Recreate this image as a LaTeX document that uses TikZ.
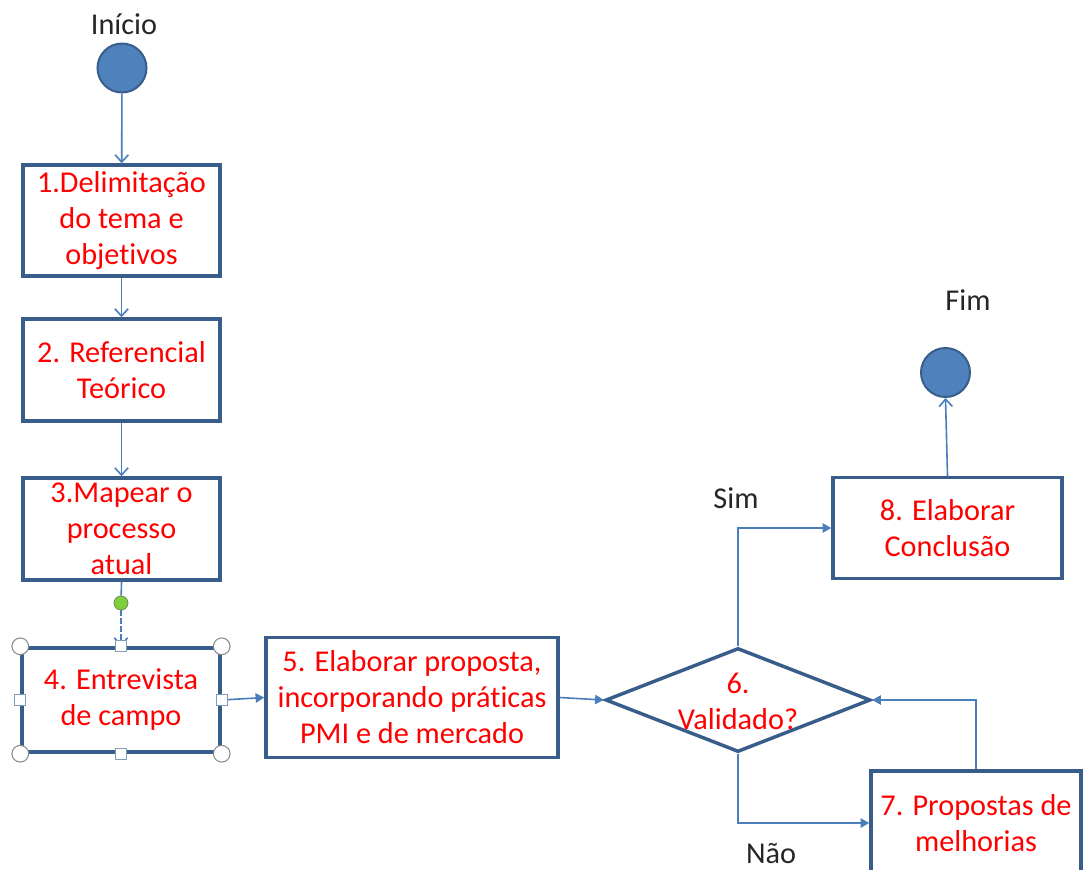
\documentclass[tikz,border=0pt]{standalone}
\usepackage{fontspec}
\setmainfont{Carlito}[Ligatures=NoCommon]
\usetikzlibrary{shapes.geometric,arrows.meta}
\definecolor{boxline}{HTML}{385D8A}
\definecolor{connblue}{HTML}{4A7EBB}
\definecolor{dotfill}{HTML}{4F81BD}
\definecolor{greendot}{HTML}{7FCF3A}
\definecolor{greenedge}{HTML}{6A8F55}
\definecolor{handlegray}{HTML}{8C8C8C}
\definecolor{handleblue}{HTML}{7F9DB9}
\begin{document}
\begin{tikzpicture}[x=0.75pt,y=-0.75pt,
  font=\fontsize{22.7}{27}\selectfont,
  stepbox/.style={rectangle,draw=boxline,line width=2.6pt,fill=white,text=red,align=center,inner sep=0pt},
  decision/.style={diamond,draw=boxline,line width=2.6pt,fill=white,inner sep=0pt},
  terminal/.style={circle,draw=boxline,line width=1.5pt,fill=dotfill,minimum size=36.75pt,inner sep=0pt},
  conn/.style={draw=connblue,line width=1.2pt},
  openarrow/.style={conn,-{Straight Barb[length=5.5pt,width=10pt]}},
  fillarrow/.style={conn,-{Triangle[length=6.5pt,width=7pt]}},
  plain/.style={text=black!85,inner sep=0pt},
  cornerhandle/.style={circle,draw=handlegray,fill=white,line width=0.8pt,minimum size=12.5pt,inner sep=0pt},
  sidehandle/.style={rectangle,draw=handleblue,fill=white,line width=0.8pt,minimum size=8.5pt,inner sep=0pt}]
\useasboundingbox (0,0) rectangle (1084,869);
\clip (0,0) rectangle (1084,869);

% start and end markers
\node[terminal] (ini) at (122,68) {};
\node[plain] (tini) at (124,24) {Início};
\node[terminal] (fim) at (945.5,372.5) {};
\node[plain] (tfim) at (968,300) {Fim};

% process steps
\node[stepbox,minimum width=147.75pt,minimum height=83.25pt] (b1) at (121.5,220.5)
  {1.Delimitação\\do tema e\\objetivos};
\node[stepbox,minimum width=147.75pt,minimum height=76.5pt] (b2) at (121.5,370)
  {2. Referencial\\Teórico};
\node[stepbox,minimum width=147.75pt,minimum height=76.5pt] (b3) at (121.5,529)
  {3.Mapear o\\processo\\atual};
\node[stepbox,minimum width=148.5pt,minimum height=78pt] (b4) at (121,700)
  {4. Entrevista\\de campo};
\node[stepbox,minimum width=219pt,minimum height=90pt] (b5) at (412,697.5)
  {5. Elaborar proposta,\\incorporando práticas\\PMI e de mercado};
\node[decision,minimum width=198.75pt,minimum height=78pt] (d6) at (738,700) {};
\node[text=red,align=center,inner sep=0pt] (t6) at (738,701)
  {\fontsize{22.7}{24}\selectfont 6.\\Validado?};
\node[stepbox,minimum width=171.75pt,minimum height=75.75pt] (b8) at (947.5,528)
  {8. Elaborar\\Conclusão};
\node[stepbox,minimum width=157.5pt,minimum height=78pt] (b7) at (976,823)
  {7. Propostas de\\melhorias};

% branch labels
\node[plain] (lsim) at (736,498) {Sim};
\node[plain] (lnao) at (771,853) {Não};

% connection point below step 3
\node[circle,draw=greenedge,fill=greendot,line width=0.6pt,minimum size=10.5pt,inner sep=0pt] (g) at (121,603) {};

% connectors
\draw[openarrow] (ini) -- (b1);
\draw[openarrow] (b1) -- (b2);
\draw[openarrow] (b2) -- (b3);
\draw[conn] (b3.south) -- (g);
\draw[openarrow,dash pattern=on 4pt off 2pt] (g) -- (b4.north);
\draw[fillarrow] (b4.east) -- (b5.west);
\draw[fillarrow] (b5.east) -- (d6.west);
\draw[fillarrow] (d6.north) |- (b8.west);
\draw[fillarrow] (d6.south) |- (b7.west);
\draw[fillarrow] (b7.north) |- (d6.east);
\draw[openarrow] (b8.north) -- (fim.south);

% selection handles around step 4
\foreach \a/\n in {north west/nw,north east/ne,south west/sw,south east/se}
  \node[cornerhandle] (hc\n) at (b4.\a) {};
\foreach \a/\n in {north/n,south/s,east/e,west/w}
  \node[sidehandle] (hs\n) at (b4.\a) {};
\end{tikzpicture}
\end{document}
